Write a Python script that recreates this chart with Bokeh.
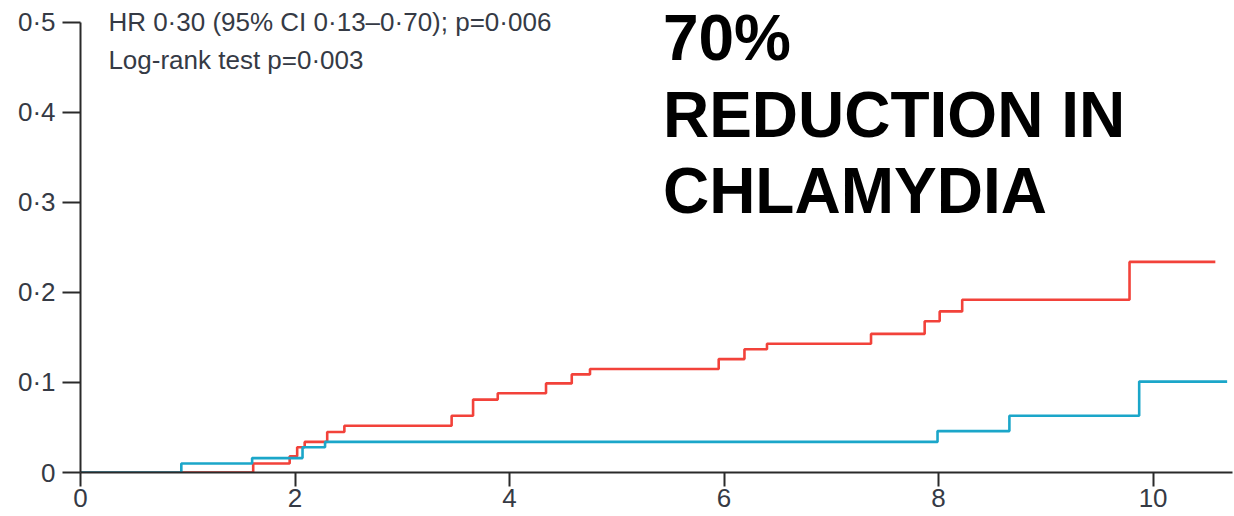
from bokeh.plotting import figure
from bokeh.models import Range1d, FixedTicker, Label
from bokeh.embed import file_html
from bokeh.resources import INLINE

# ---- data ----
red_t = [0, 1.61, 1.95, 2.02, 2.09, 2.30, 2.46, 3.46, 3.66, 3.89, 4.34, 4.58, 4.75,
         5.95, 6.19, 6.40, 7.37, 7.87, 8.01, 8.22, 9.78, 10.58]
red_y = [0, 0.010, 0.018, 0.028, 0.034, 0.045, 0.052, 0.063, 0.081, 0.088, 0.099, 0.109, 0.115,
         0.126, 0.137, 0.143, 0.154, 0.168, 0.179, 0.192, 0.234, 0.234]

blue_t = [0, 0.94, 1.60, 2.07, 2.28, 7.99, 8.66, 9.87, 10.69]
blue_y = [0, 0.010, 0.016, 0.028, 0.034, 0.046, 0.063, 0.101, 0.101]

x_ticks = [0, 2, 4, 6, 8, 10]
x_tick_labels = ["0", "2", "4", "6", "8", "10"]
y_ticks = [0, 0.1, 0.2, 0.3, 0.4, 0.5]
y_tick_labels = ["0", "0·1", "0·2", "0·3", "0·4", "0·5"]

stat_lines = ["HR 0·30 (95% CI 0·13–0·70); p=0·006", "Log-rank test p=0·003"]
headline = ["70%", "REDUCTION IN", "CHLAMYDIA"]

RED = "#f2423a"
BLUE = "#1ba6c9"
AX = "#2a2a2a"
TXT = "#353a45"
FONT = "Liberation Sans"

X_MAX = 10.74
Y_AXIS_MAX = 0.5
Y_VIEW_MAX = 0.5244  # extra headroom above the axis for the text block

p = figure(width=1234, height=516, x_range=Range1d(0, X_MAX), y_range=Range1d(0, Y_VIEW_MAX),
           output_backend="svg", toolbar_location=None,
           min_border_left=80, min_border_top=0, min_border_right=2, min_border_bottom=44)

p.step(red_t, red_y, mode="after", line_color=RED, line_width=2.6)
p.step(blue_t, blue_y, mode="after", line_color=BLUE, line_width=2.6)

p.grid.visible = False
p.outline_line_color = None
p.background_fill_color = "white"
p.border_fill_color = "white"

for ax in (p.xaxis[0], p.yaxis[0]):
    ax.axis_line_width = 2
    ax.axis_line_color = AX
    ax.major_tick_line_width = 2
    ax.major_tick_line_color = AX
    ax.major_tick_in = 0
    ax.minor_tick_line_color = None
    ax.major_label_text_font = FONT
    ax.major_label_text_font_size = "26px"
    ax.major_label_text_color = TXT

p.xaxis.ticker = FixedTicker(ticks=x_ticks)
p.xaxis.major_label_overrides = dict(zip(x_ticks, x_tick_labels))
p.xaxis.major_tick_out = 14
p.xaxis.major_label_standoff = 2

p.yaxis.ticker = FixedTicker(ticks=y_ticks)
p.yaxis.major_label_overrides = dict(zip(y_ticks, y_tick_labels))
p.yaxis.major_tick_out = 18
p.yaxis.major_label_standoff = 7
p.yaxis.bounds = (0, Y_AXIS_MAX)

# statistics text (top-left)
stat_x = 0.26
stat_ys = [0.500, 0.458]
for s, yy in zip(stat_lines, stat_ys):
    p.add_layout(Label(x=stat_x, y=yy, text=s, text_font=FONT, text_font_size="26px",
                       text_color=TXT, text_baseline="alphabetic", text_align="left"))

# headline text
head_x = 5.43
head_ys = [0.483, 0.397, 0.313]
for s, yy in zip(headline, head_ys):
    p.add_layout(Label(x=head_x, y=yy, text=s, text_font=FONT, text_font_size="64px",
                       text_font_style="bold", text_color="black",
                       text_baseline="alphabetic", text_align="left"))

open("out.html", "w").write(file_html(p, INLINE))
